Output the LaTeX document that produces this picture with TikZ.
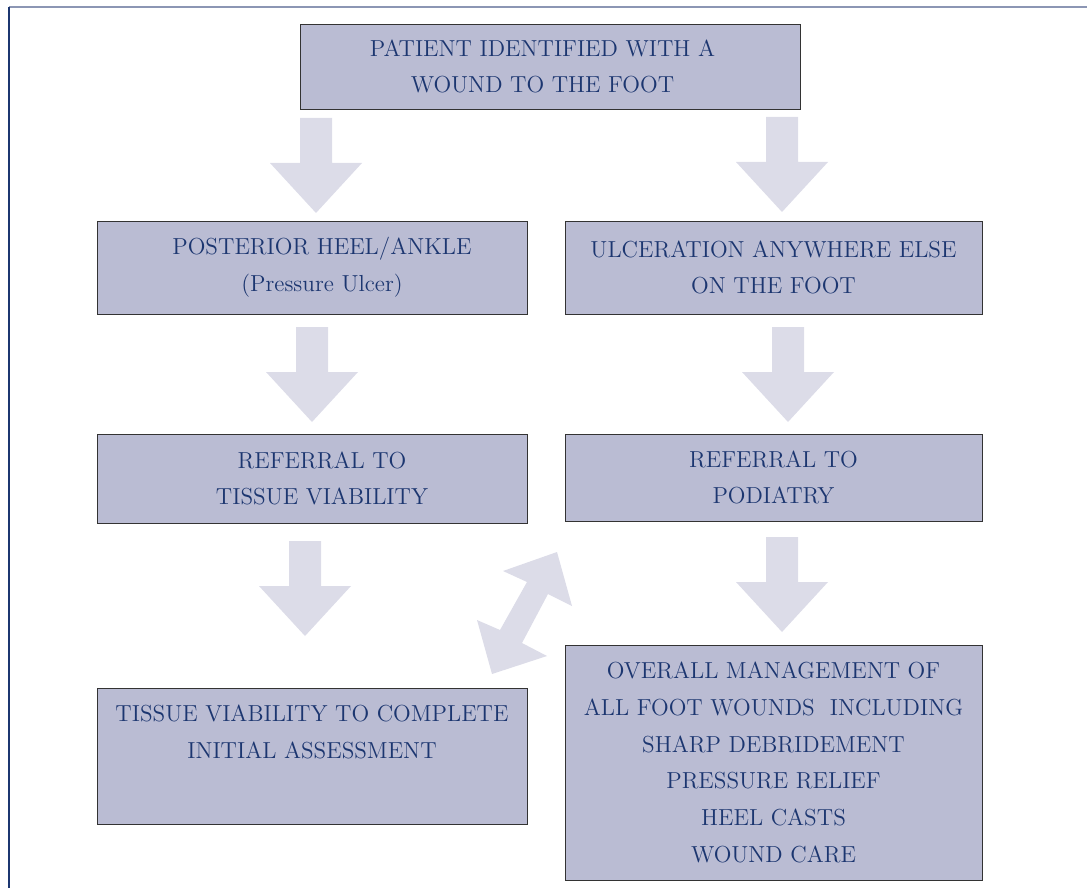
\documentclass[tikz,border=0pt]{standalone}
\usepackage{tikz}
\usetikzlibrary{positioning}

\definecolor{boxfill}{HTML}{BABCD3}
\definecolor{arrowfill}{HTML}{DCDCE8}
\definecolor{navytext}{HTML}{1C3670}
\definecolor{framegrey}{HTML}{8C96B4}

\tikzset{
  stepbox/.style={draw=black!80, line width=0.5pt, fill=boxfill, text=navytext,
    align=center, inner sep=0pt, font=\fontsize{13.2}{21}\selectfont},
  flow/.style={fill=arrowfill, draw=none}
}

\begin{document}
\begin{tikzpicture}[x=0.02cm, y=-0.02cm]
  \useasboundingbox (0,0) rectangle (1087,888);
  % frame
  \draw[framegrey, line width=1.2pt] (9,7) -- (1087,7);
  \draw[navytext, line width=0.6pt] (9,7) -- (9,888);

  % boxes
  \node[stepbox, minimum width=10cm, minimum height=1.7cm] (start) at (550,66.5)
    {PATIENT IDENTIFIED WITH A\hspace*{0.3cm}\\WOUND TO THE FOOT\hspace*{0.3cm}};
  \node[stepbox, minimum width=8.6cm, minimum height=1.86cm] (heel) at (312,267.5)
    {\hspace*{0.4cm}POSTERIOR HEEL/ANKLE\\\hspace*{0.4cm}(Pressure Ulcer)};
  \node[stepbox, minimum width=8.34cm, minimum height=1.86cm] (ulcer) at (773.5,267.5)
    {ULCERATION ANYWHERE ELSE\\ON THE FOOT};
  \node[stepbox, minimum width=8.6cm, minimum height=1.78cm] (reftv) at (312,478.5)
    {\hspace*{0.4cm}REFERRAL TO\\\hspace*{0.4cm}TISSUE VIABILITY};
  \node[stepbox, minimum width=8.34cm, minimum height=1.74cm] (refpod) at (773.5,477.5)
    {REFERRAL TO\\PODIATRY};
  \node[stepbox, minimum width=8.6cm, minimum height=2.72cm] (assess) at (312,756)
    {TISSUE VIABILITY TO COMPLETE\\INITIAL ASSESSMENT\\ \strut};
  \node[stepbox, minimum width=8.34cm, minimum height=4.7cm] (manage) at (773.5,762.5)
    {OVERALL MANAGEMENT OF\\ALL FOOT WOUNDS\ \ INCLUDING\\SHARP DEBRIDEMENT\\
     PRESSURE RELIEF\\HEEL CASTS\\WOUND CARE};

  % block arrows between the boxes
  \coordinate (a1) at (316,118); \coordinate (a2) at (782,117);
  \coordinate (a3) at (312,327); \coordinate (a4) at (788,327);
  \coordinate (a5) at (305,541); \coordinate (a6) at (782,537);
  \foreach \p in {a1,a2,a3,a4,a5,a6}
    \fill[flow] (\p) ++(-16,0) -- ++(0,45) -- ++(-30,0) -- ++(46,50)
      -- ++(46,-50) -- ++(-30,0) -- ++(0,-45) -- cycle;

  % two-way arrow between assessment and podiatry
  \fill[flow] (557,552) -- (572,606) -- (548,594) -- (522,643) -- (547,656)
    -- (492,674) -- (477,620) -- (500,630) -- (527,582) -- (503,571) -- cycle;
\end{tikzpicture}
\end{document}
